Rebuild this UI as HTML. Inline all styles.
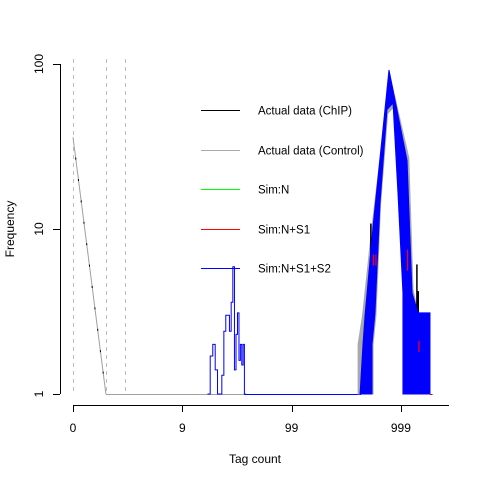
<!DOCTYPE html>
<html><head><meta charset="utf-8"><style>
body{margin:0;background:#fff}
svg{display:block;font-family:"Liberation Sans",Arial,sans-serif}
</style></head><body>
<svg id="chart" width="480" height="480" viewBox="0 0 480 480">
<rect width="480" height="480" fill="#fff"/>
<g id="grid"></g>
<g id="marks"></g>
<g id="axes"></g>
<g id="legend"></g>
<text x="255" y="463" font-size="12" text-anchor="middle">Tag count</text>
<text x="0" y="0" font-size="12" text-anchor="middle" transform="translate(14,229) rotate(-90)">Frequency</text>
</svg>
<script>
const xTicks=[0,9,99,999];
const yTicks=[1,10,100];
const cutoffs=[0,1,2];
const declineCounts=[0,1];
const declineFreq=[36,1];
const smallCounts=[16,17,18,19,20,21,22,23,24,25,26,27,28,29,30,31,32,33,34,35,36];
const smallFreq=[1,1.7,2.0,1.4,1,1,1.3,2.4,3.0,3.0,2.4,3.6,5.9,1.4,2.3,3.1,1.6,2.0,1.5,2.0,1];
const blueCounts=[422,449,469,555,777,1137,1264,1432,1844,1844,1043,1043,939,846,745,643,578,543,543];
const blueFreq=[1,2,3,10.3,92,26,4.1,3.1,3.1,1,1,4.1,16.5,58,53,14.4,3.1,2,1];
const grayCounts=[405,405,445,540,790,1180,1290,1440,1500,1500,1060,1050,950,860,755,650,590,555,555];
const grayFreq=[1,2,3,10,86,27,4.3,3,3,1,1,4,16,55,50,14,3,2,1];
const blackSpikeCounts=[530,1400,1420,1440,460];
const blackSpikeTop=[10.8,6.1,4.2,4.2,2.2];
const blackSpikeBot=[5.5,2.1,2.0,2.0,1];
const redSpikeCounts=[560,590,1460,1150];
const redSpikeTop=[7.0,7.0,2.1,7.5];
const redSpikeBot=[6.0,6.0,1.8,5.6];

const X=c=>73+109.3*Math.log10(c+1);
const Y=f=>394-165*Math.log10(f);
const NS="http://www.w3.org/2000/svg";
function mk(tag,parent,attrs){const e=document.createElementNS(NS,tag);for(const k in attrs)e.setAttribute(k,attrs[k]);parent.appendChild(e);return e;}

const grid=document.getElementById('grid');
cutoffs.forEach(c=>{
  const x=Math.round(X(c))+0.5;
  const l=mk('line',grid,{x1:x,x2:x,y1:59,y2:394,stroke:'#bebebe','stroke-dasharray':'4,4'});
  
  
});

const marks=document.getElementById('marks');
let b=mk('line',marks,{x1:X(1),x2:X(400),y1:394.5,y2:394.5,stroke:'#a0a0a0'});


b=mk('line',marks,{x1:X(36),x2:X(430),y1:394.5,y2:394.5,stroke:'#0000ff'});


b=mk('line',marks,{x1:X(1844),x2:X(1950),y1:394.5,y2:394.5,stroke:'#ff0000'});


let d=mk('line',marks,{x1:X(declineCounts[0]),y1:Y(declineFreq[0]),x2:X(declineCounts[1]),y2:Y(declineFreq[1]),stroke:'#a0a0a0'});


for(let i=1;i<12;i++){const t=i/12;const x=X(declineCounts[0])+t*(X(declineCounts[1])-X(declineCounts[0]));const y=Y(declineFreq[0])+t*(Y(declineFreq[1])-Y(declineFreq[0]));
  const dot=mk('rect',marks,{x:x-0.5,y:y-1,width:1,height:2,fill:'#000'});
  
  
}
function poly(counts,freqs,color,name){
  const p=mk('polygon',marks,{points:counts.map((c,i)=>X(c)+','+Y(freqs[i])).join(' '),fill:color,stroke:color,'stroke-width':1});
  
  
}
poly(grayCounts,grayFreq,'#a9a9a9','control-peak');
function spikes(cs,tops,bots,color,name,w){
  cs.forEach((c,i)=>{const l=mk('line',marks,{x1:X(c),x2:X(c),y1:Y(tops[i]),y2:Y(bots[i]),stroke:color,'stroke-width':w});
    
    });
}
spikes(blackSpikeCounts,blackSpikeTop,blackSpikeBot,'#000','chip-spike',1.5);
poly(blueCounts,blueFreq,'#0000ff','sim-n-s1-s2-peak');
spikes(redSpikeCounts,redSpikeTop,redSpikeBot,'#ff0000','sim-s1-spike',1.2);
let pts=[];
for(let i=0;i<smallCounts.length;i++){
  const x0=X(smallCounts[i]);const x1=i<smallCounts.length-1?X(smallCounts[i+1]):x0+1.3;
  pts.push(x0+','+Y(smallFreq[i]));pts.push(x1+','+Y(smallFreq[i]));
}
let sp=mk('polyline',marks,{points:pts.join(' '),fill:'none',stroke:'#0000ff','stroke-width':1});



const axes=document.getElementById('axes');
let ax=mk('line',axes,{x1:60.5,x2:60.5,y1:Y(100),y2:Y(1),stroke:'#000'});


yTicks.forEach(v=>{
  const y=Math.round(Y(v))+0.5;
  const t=mk('line',axes,{x1:53,x2:60,y1:y,y2:y,stroke:'#000'});
  
  
  const lb=mk('text',axes,{x:0,y:0,'font-size':12,'text-anchor':'middle',transform:`translate(43,${Y(v)}) rotate(-90)`});
  lb.textContent=v;
  
  
});
ax=mk('line',axes,{x1:73,x2:449,y1:405.5,y2:405.5,stroke:'#000'});


xTicks.forEach(v=>{
  const x=Math.round(X(v))+0.5;
  const t=mk('line',axes,{x1:x,x2:x,y1:405,y2:412,stroke:'#000'});
  
  
  const lb=mk('text',axes,{x:X(v),y:432,'font-size':12,'text-anchor':'middle'});
  lb.textContent=v;
  
  
});

const legLabels=['Actual data (ChIP)','Actual data (Control)','Sim:N','Sim:N+S1','Sim:N+S1+S2'];
const legColors=['#000000','#a9a9a9','#00ff00','#ff0000','#0000ff'];
const legend=document.getElementById('legend');
legLabels.forEach((s,i)=>{
  const y=Math.round(110+39.5*i)+0.5;
  const l=mk('line',legend,{x1:201,x2:240,y1:y,y2:y,stroke:legColors[i]});
  
  
  const t=mk('text',legend,{x:258,y:y+4,'font-size':11.5});
  t.textContent=s;
  
  
});
</script>
</body></html>
